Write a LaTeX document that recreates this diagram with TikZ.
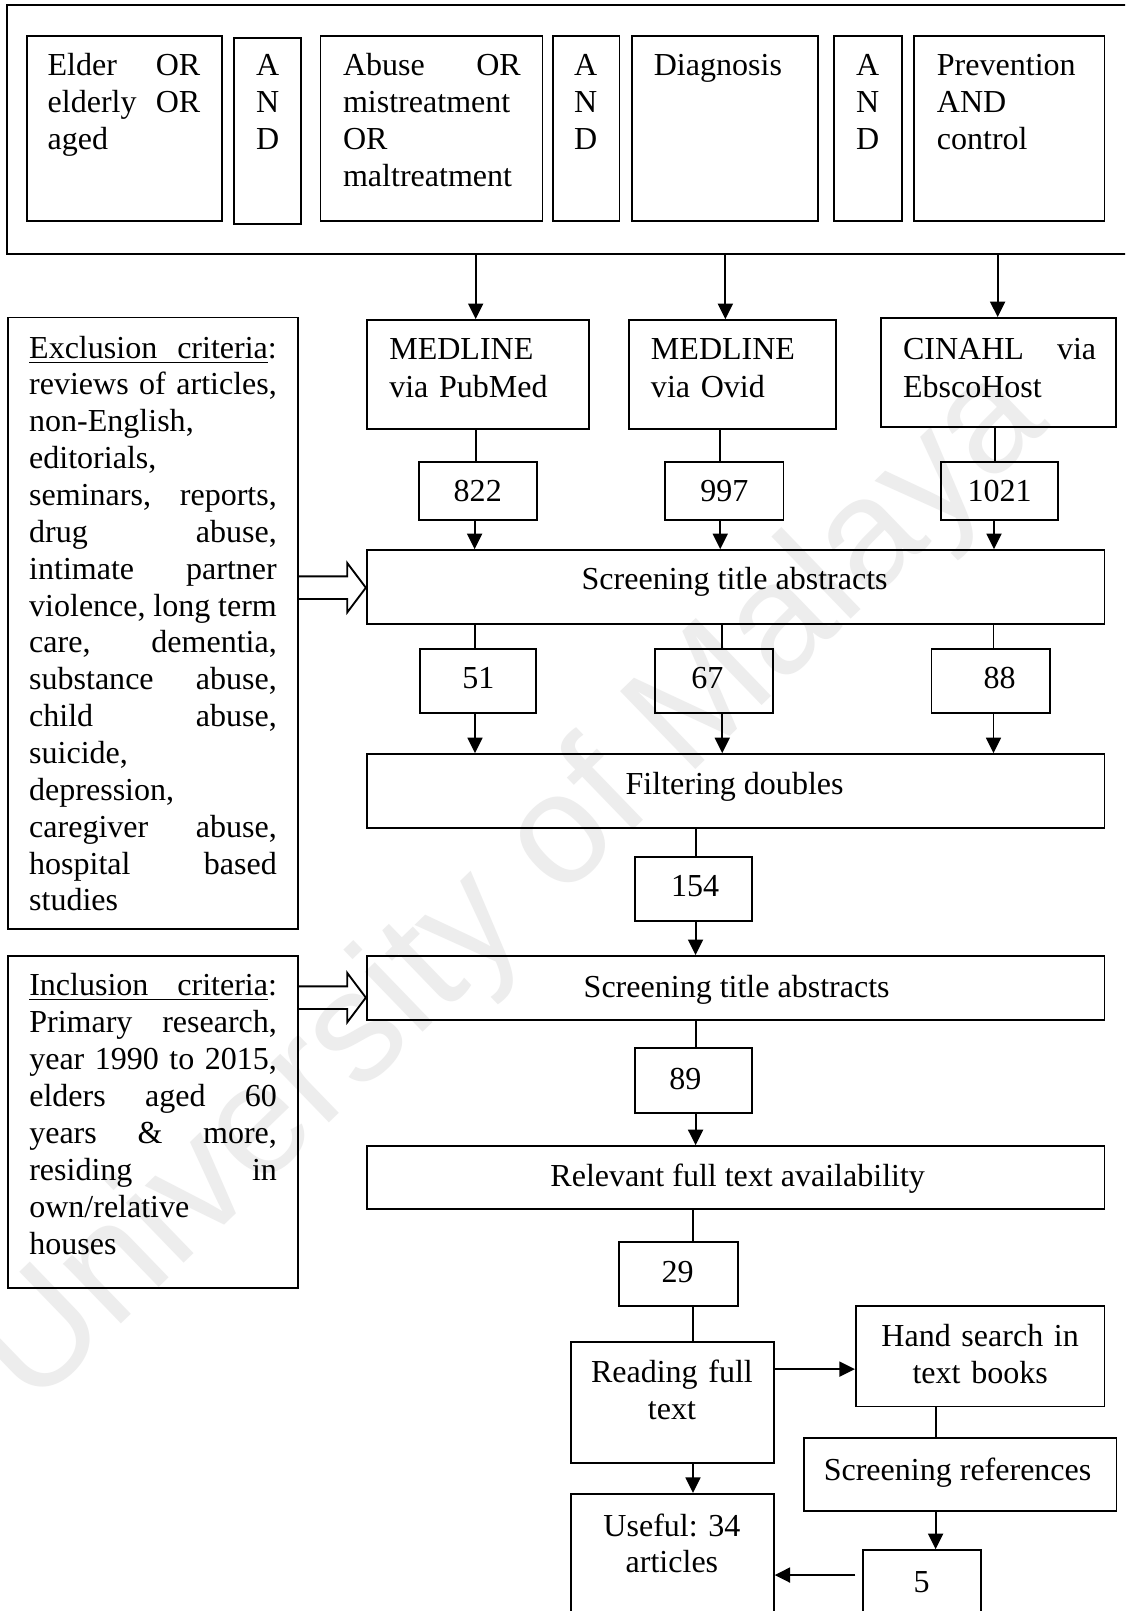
\documentclass[tikz,border=0pt]{standalone}
\usepackage{fontspec}
\setmainfont{Liberation Serif}
\setsansfont{Liberation Sans}
\usetikzlibrary{arrows.meta,fit}
\newlength\colw
\frenchspacing
\begin{document}
\begin{tikzpicture}[x=0.385pt,y=-0.385pt,
  line width=0.7pt,
  box/.style={draw, rectangle, inner sep=0pt},
  txt/.style={inner sep=0pt, font=\fontsize{12pt}{13.75pt}\selectfont},
  lefttxt/.style={txt, anchor=base west, align=left},
  toptxt/.style={lefttxt, font=\fontsize{12pt}{13.95pt}\selectfont},
  dbtxt/.style={lefttxt, font=\fontsize{12pt}{14.25pt}\selectfont},
  midtxt/.style={txt, anchor=base, align=center},
  andtxt/.style={midtxt, text width=14pt, font=\fontsize{12pt}{13.95pt}\selectfont},
  arr/.style={-{Triangle[length=5.8pt,width=5.6pt]}},
  hollow/.style={line join=miter},
]
\useasboundingbox (0,0) rectangle (1095,1568);
\fill[white] (0,0) rectangle (1095,1568);
\clip (0,0) rectangle (1095,1568);

% faint background lettering
\node[rotate=44, text=black!7, inner sep=0pt,
      font=\sffamily\fontsize{59pt}{59pt}\selectfont] (wm) at (500,865) {University of Malaya};

% ---- search terms ----
\node[box, fit={(7,5) (1140,247)}] (query) {};
\node[box, fit={(26,35) (216,215)}] (elder) {};
\node[toptxt, text width=57.2pt] (elderT) at (45.5,73) {Elder\hfill OR\\elderly\hfill OR\\aged};
\node[box, fit={(228,37) (293,218)}] (and1) {};
\node[andtxt] (and1T) at (260.5,73) {A\\N\\D};
\node[box, fit={(312,35) (528,215)}] (abuse) {};
\node[toptxt, text width=66.6pt] (abuseT) at (333,73) {Abuse\hfill OR\\mistreatment\\OR\\maltreatment};
\node[box, fit={(538,35) (603,215)}] (and2) {};
\node[andtxt] (and2T) at (570,73) {A\\N\\D};
\node[box, fit={(615,35) (796,215)}] (diag) {};
\node[toptxt] (diagT) at (635.5,73) {Diagnosis};
\node[box, fit={(812,35) (878,215)}] (and3) {};
\node[andtxt] (and3T) at (844.5,73) {A\\N\\D};
\node[box, fit={(890,35) (1075,215)}] (prev) {};
\node[toptxt, text width=70pt] (prevT) at (911,73) {Prevention\\AND\\control};

% ---- databases ----
\node[box, fit={(357,311.5) (573,417.6)}] (med1) {};
\node[dbtxt, text width=75pt] (med1T) at (378,349.6) {MEDLINE\\via PubMed};
\node[box, fit={(612.6,311.5) (813.7,417.6)}] (med2) {};
\node[dbtxt, text width=70pt] (med2T) at (632.7,349.6) {MEDLINE\\via Ovid};
\node[box, fit={(857.7,309.5) (1086.5,415.5)}] (cin) {};
\node[dbtxt, text width=72.4pt] (cinT) at (878,349.6) {CINAHL\hfill via\\EbscoHost};

\draw[arr] (query.south -| 463,0) -- (med1.north -| 463,0);
\draw[arr] (query.south -| 706,0) -- (med2.north -| 706,0);
\draw[arr] (query.south -| 971,0) -- (cin.north -| 971,0);

% ---- hits per database ----
\node[box, fit={(408,449.5) (522.6,506)}] (n822) {};
\node[midtxt] (n822T) at (465,488.5) {822};
\node[box, fit={(647.6,449.5) (762.6,506)}] (n997) {};
\node[midtxt] (n997T) at (705,488.5) {997};
\node[box, fit={(915.6,449.5) (1029.8,506)}] (n1021) {};
\node[midtxt] (n1021T) at (973,488.5) {1021};

\draw (med1.south -| 463,0) -- (n822.north -| 463,0);
\draw (med2.south -| 700.6,0) -- (n997.north -| 700.6,0);
\draw (cin.south -| 968.6,0) -- (n1021.north -| 968.6,0);

% ---- first screening ----
\node[box, fit={(357,535.4) (1075,607.6)}] (scr1) {};
\node[midtxt] (scr1T) at (715,573.5) {Screening title abstracts};

\draw[arr] (n822.south -| 462,0) -- (scr1.north -| 462,0);
\draw[arr] (n997.south -| 701,0) -- (scr1.north -| 701,0);
\draw[arr] (n1021.south -| 967.5,0) -- (scr1.north -| 967.5,0);

\node[box, fit={(408.8,632) (522,694)}] (n51) {};
\node[midtxt] (n51T) at (465.7,670.5) {51};
\node[box, fit={(637.5,632) (752.5,694)}] (n67) {};
\node[midtxt] (n67T) at (688.6,670.5) {67};
\node[box, fit={(906.6,632) (1022,694)}] (n88) {};
\node[midtxt] (n88T) at (973,670.5) {88};

\draw (scr1.south -| 462.3,0) -- (n51.north -| 462.3,0);
\draw (scr1.south -| 703,0) -- (n67.north -| 703,0);
\draw (scr1.south -| 967,0) -- (n88.north -| 967,0);

% ---- duplicates ----
\node[box, fit={(357,734) (1075,806)}] (filt) {};
\node[midtxt] (filtT) at (715,773.5) {Filtering doubles};

\draw[arr] (n51.south -| 462.3,0) -- (filt.north -| 462.3,0);
\draw[arr] (n67.south -| 703,0) -- (filt.north -| 703,0);
\draw[arr] (n88.south -| 967,0) -- (filt.north -| 967,0);

\node[box, fit={(617.7,834) (732,896)}] (n154) {};
\node[midtxt] (n154T) at (676.6,873) {154};
\draw (filt.south -| 677,0) -- (n154.north -| 677,0);

% ---- second screening ----
\node[box, fit={(357,930.5) (1075,993)}] (scr2) {};
\node[midtxt] (scr2T) at (717,970.5) {Screening title abstracts};
\draw[arr] (n154.south -| 677,0) -- (scr2.north -| 677,0);

\node[box, fit={(617.7,1020) (732,1083.5)}] (n89) {};
\node[midtxt] (n89T) at (667,1060) {89};
\draw (scr2.south -| 677,0) -- (n89.north -| 677,0);

\node[box, fit={(357,1115.5) (1075,1177)}] (rel) {};
\node[midtxt] (relT) at (718,1155) {Relevant full text availability};
\draw[arr] (n89.south -| 677,0) -- (rel.north -| 677,0);

\node[box, fit={(602.5,1208.6) (718,1271)}] (n29) {};
\node[midtxt] (n29T) at (659.6,1248.5) {29};
\draw (rel.south -| 674.5,0) -- (n29.north -| 674.5,0);

% ---- full text and hand search ----
\node[box, fit={(555.4,1306) (753,1424)}] (read) {};
\node[midtxt, text width=75pt] (readT) at (654,1346) {Reading full\\text};
\draw (n29.south -| 674.5,0) -- (read.north -| 674.5,0);

\node[box, fit={(833,1271) (1075,1369)}] (hand) {};
\node[midtxt, text width=90pt] (handT) at (954,1311) {Hand search in\\text books};
\draw[arr] (read.east |- 0,1332.6) -- (hand.west |- 0,1332.6);

\node[box, fit={(782.6,1400) (1086.7,1470.6)}] (scrref) {};
\node[midtxt] (scrrefT) at (932,1441) {Screening references};
\draw (hand.south -| 910.6,0) -- (scrref.north -| 910.6,0);

\node[box, fit={(840,1508.7) (955,1640)}] (n5) {};
\node[midtxt] (n5T) at (897,1549.5) {5};
\draw[arr] (scrref.south -| 910.6,0) -- (n5.north -| 910.6,0);

\node[box, fit={(555.4,1454) (753,1640)}] (useful) {};
\node[midtxt, text width=75pt] (usefulT) at (654,1495) {Useful: 34\\articles};
\draw[arr] (read.south -| 674.5,0) -- (useful.north -| 674.5,0);
\draw[arr, shorten <=2.5pt] (n5.west |- 0,1533) -- (useful.east |- 0,1533);

% ---- criteria ----
\node[box, fit={(7.5,309) (289.7,904)}] (exc) {};
\node[lefttxt, text width=92.8pt, font=\fontsize{12pt}{13.81pt}\selectfont] (excT) at (27.5,348.5)
  {\settowidth\colw{:}\underline{\hbox to \dimexpr92.8pt-\colw\relax{Exclusion\hfill criteria}}:\\
   reviews\hfill of\hfill articles,\\
   non-English,\\
   editorials,\\
   seminars,\hfill reports,\\
   drug\hfill abuse,\\
   intimate\hfill partner\\
   violence,\hfill long\hfill term\\
   care,\hfill dementia,\\
   substance\hfill abuse,\\
   child\hfill abuse,\\
   suicide,\\
   depression,\\
   caregiver\hfill abuse,\\
   hospital\hfill based\\
   studies};

\node[box, fit={(7.5,930.5) (289.7,1253.6)}] (inc) {};
\node[lefttxt, text width=92.8pt, font=\fontsize{12pt}{13.87pt}\selectfont] (incT) at (27.6,968.5)
  {\settowidth\colw{:}\underline{\hbox to \dimexpr92.8pt-\colw\relax{Inclusion\hfill criteria}}:\\
   Primary\hfill research,\\
   year\hfill 1990\hfill to\hfill 2015,\\
   elders\hfill aged\hfill 60\\
   years\hfill \&\hfill more,\\
   residing\hfill in\\
   own/relative\\
   houses};

% open block arrows from the criteria into the screening steps
\draw[hollow] (exc.east |- 0,561) -- (338,561) -- (338,548) -- (scr1.west |- 0,572)
  -- (338,596) -- (338,583) -- (exc.east |- 0,583);
\draw[hollow] (inc.east |- 0,960) -- (338,960) -- (338,947) -- (scr2.west |- 0,971)
  -- (338,995) -- (338,982) -- (inc.east |- 0,982);
\end{tikzpicture}
\end{document}
